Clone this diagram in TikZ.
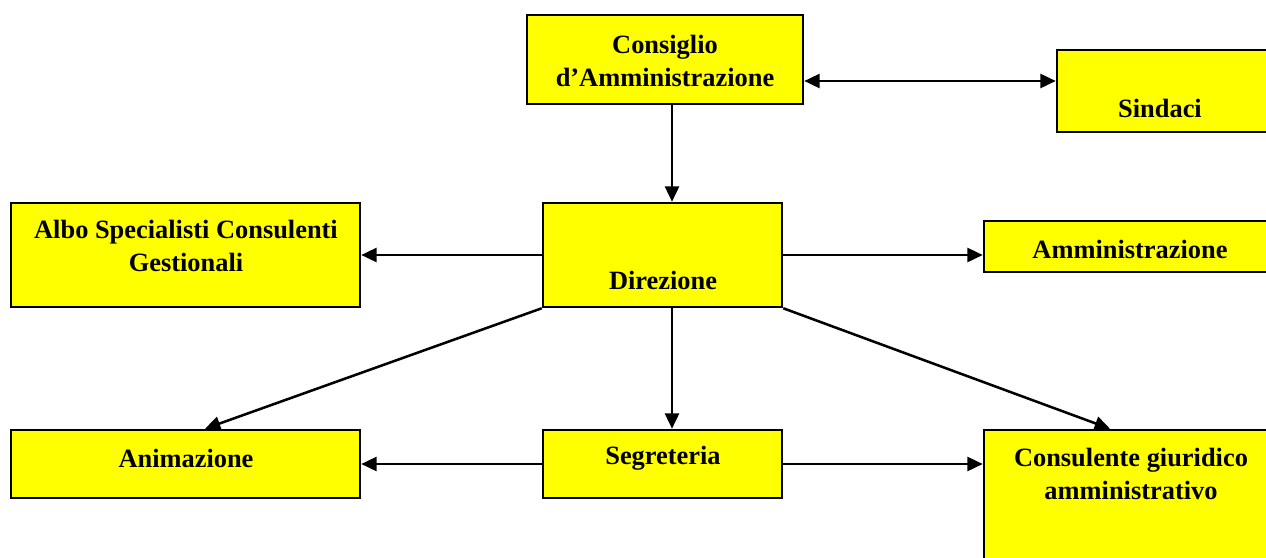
\documentclass[tikz,border=0pt]{standalone}
\usepackage{fontspec}
\setmainfont{Liberation Serif}
\usetikzlibrary{arrows.meta,fit}
\definecolor{boxyellow}{RGB}{255,255,0}
\begin{document}
\begin{tikzpicture}[x=0.75pt,y=-0.75pt,
  box/.style={draw=black, line width=1.9pt, fill=boxyellow, inner sep=0pt},
  lbl/.style={font=\fontsize{19.8}{24.5}\selectfont\bfseries, align=center, inner sep=0pt},
  tip/.style={},
  conn/.style={line width=1.9pt, -{Triangle[length=11.5pt,width=10.5pt]}},
  dconn/.style={line width=1.9pt, {Triangle[length=11.5pt,width=10.5pt]}-{Triangle[length=11.5pt,width=10.5pt]}}]
\useasboundingbox (0,0) rectangle (1266,557);
\clip (0,0) rectangle (1266,557);
\fill[white] (0,0) rectangle (1266,557);
% boxes
\node[box, fit={(527,15) (803,104)}] (cons) {};
\node[box, fit={(1057,50) (1295,132)}] (sind) {};
\node[box, fit={(11,203) (360,307)}] (albo) {};
\node[box, fit={(543,203) (782,307)}] (dir) {};
\node[box, fit={(984,221) (1295,272)}] (amm) {};
\node[box, fit={(11,430) (360,498)}] (anim) {};
\node[box, fit={(543,430) (782,498)}] (seg) {};
\node[box, fit={(984,430) (1295,600)}] (cgiu) {};
% labels
\node[lbl] (tcons) at (665,61) {Consiglio\\d’Amministrazione};
\node[lbl] (tsind) at (1160,108) {Sindaci};
\node[lbl] (talbo) at (186,246) {Albo Specialisti Consulenti\\Gestionali};
\node[lbl] (tdir) at (663,280) {Direzione};
\node[lbl] (tamm) at (1130,249) {Amministrazione};
\node[lbl] (tanim) at (186,458) {Animazione};
\node[lbl] (tseg) at (663,458) {Segreteria};
\node[lbl] (tcgiu) at (1131,474) {Consulente giuridico\\amministrativo};
% connectors
\draw[conn] (cons.south -| 672,0) -- (dir.north -| 672,0);
\draw[dconn] (cons.east |- 0,81) -- (sind.west |- 0,81);
\draw[conn] (dir.west) -- (albo.east |- dir.west);
\draw[conn] (dir.east) -- (amm.west |- dir.east);
\draw[conn] (dir.south west) -- (anim.north -| 205,0);
\draw[conn] (dir.south -| 672,0) -- (seg.north -| 672,0);
\draw[conn] (dir.south east) -- (cgiu.north -| 1110,0);
\draw[conn] (seg.west) -- (anim.east |- seg.west);
\draw[conn] (seg.east) -- (cgiu.west |- seg.east);
\end{tikzpicture}
\end{document}
